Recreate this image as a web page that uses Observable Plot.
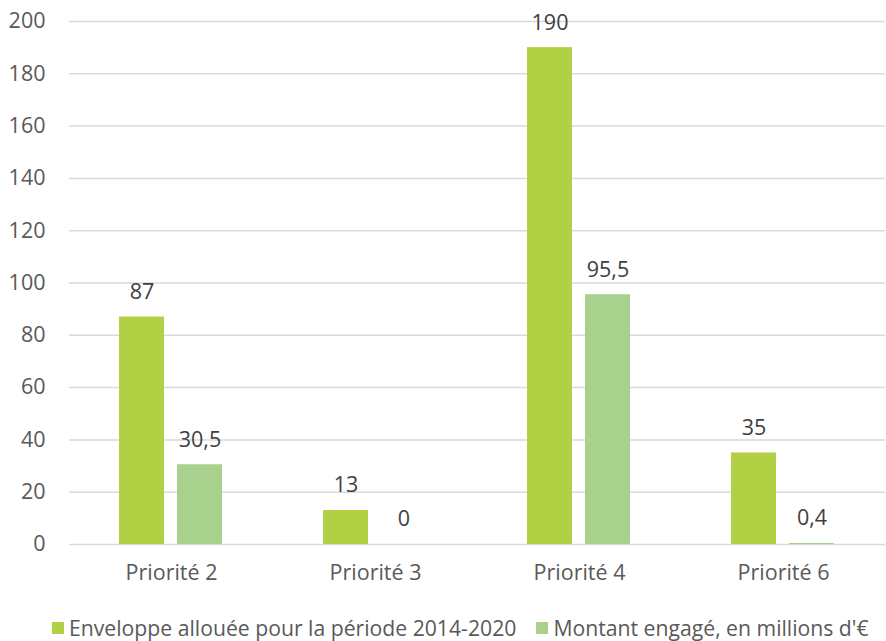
<!DOCTYPE html>
<html>
<head>
<meta charset="utf-8">
<script src="https://cdn.jsdelivr.net/npm/d3@7"></script>
<script src="https://cdn.jsdelivr.net/npm/@observablehq/plot@0.6"></script>
<style>
  body { margin: 0; background: #fff; font-family: "Open Sans", sans-serif; }
  #chart svg { display: block; }
  #legend { display: flex; align-items: center; height: 49px; padding-top: 22px; box-sizing: border-box; padding-left: 52px; font-size: 21.2px; color: #595959; white-space: nowrap; }
  .item { display: flex; align-items: center; margin-right: 20px; }
  .sw { width: 12px; height: 12px; margin-right: 5px; }
</style>
</head>
<body>
<div id="chart"></div>
<div id="legend"></div>
<script>
const categories = ["Priorité 2", "Priorité 3", "Priorité 4", "Priorité 6"];
const series = ["Enveloppe allouée pour la période 2014-2020", "Montant engagé, en millions d'€"];
const enveloppe = [87, 13, 190, 35];
const montant = [30.5, 0, 95.5, 0.4];
const yTicks = [0, 20, 40, 60, 80, 100, 120, 140, 160, 180, 200];
const colors = ["#b2d043", "#a9d18e"];

const data = [];
categories.forEach((c, i) => {
  data.push({cat: c, series: series[0], value: enveloppe[i]});
  data.push({cat: c, series: series[1], value: montant[i]});
});
const fmt = v => String(v).replace(".", ",");

const chart = Plot.plot({
  width: 886,
  height: 592,
  marginLeft: 68,
  marginRight: 0,
  marginTop: 21,
  marginBottom: 48,
  style: {fontFamily: "Open Sans", background: "#fff"},
  fx: {domain: categories, padding: 0, label: null},
  x: {domain: series, paddingInner: 0.22, paddingOuter: 0.843, axis: null},
  y: {domain: [0, 200], label: null},
  color: {domain: series, range: colors},
  marks: [
    Plot.gridY(yTicks, {stroke: "#d9d9d9", strokeOpacity: 1, strokeWidth: 1.5}),
    Plot.axisY(yTicks, {tickSize: 0, tickPadding: 24, fontSize: 21.5, color: "#595959", label: null}),
    Plot.axisFx({anchor: "bottom", tickSize: 0, tickPadding: 20, fontSize: 21.5, color: "#595959", label: null}),
    Plot.barY(data, {fx: "cat", x: "series", y: "value", fill: "series"}),
    Plot.text(data, {fx: "cat", x: "series", y: "value", text: d => fmt(d.value), dy: -25, fontSize: 21.5, fill: "#404040"})
  ]
});
document.getElementById("chart").append(chart);

const legend = document.getElementById("legend");
series.forEach((s, i) => {
  const it = document.createElement("div");
  it.className = "item";
  it.innerHTML = `<span class="sw" style="background:${colors[i]}"></span><span>${s}</span>`;
  legend.append(it);
});
</script>
</body>
</html>
